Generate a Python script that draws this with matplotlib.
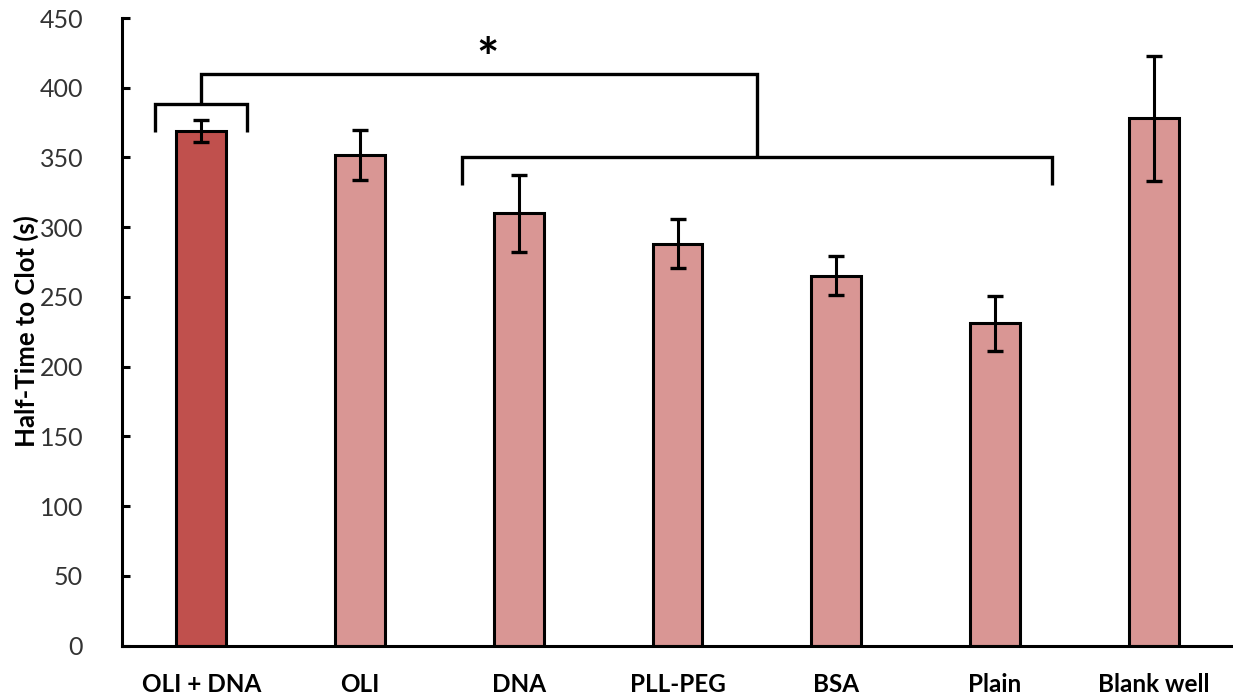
import matplotlib
matplotlib.use("Agg")
import matplotlib.pyplot as plt
import numpy as np

# values
categories = ["OLI + DNA", "OLI", "DNA", "PLL-PEG", "BSA", "Plain", "Blank well"]
half_time = [369, 352, 310, 288, 265, 231, 378]
err = [8, 18, 27.5, 17.5, 14, 19.5, 45]
highlight = "OLI + DNA"

# significance bracket: reference bar vs group of bars
ref_idx = 0
group_idx = [2, 3, 4, 5]
bracket_low = (368, 388.5)     # short bracket over reference bar
bracket_grp = (330, 350)       # long bracket over the group
bracket_top = 410
star_x, star_y = 1.8, 419

plt.rcParams['font.family'] = ['Lato', 'DejaVu Sans']

fig = plt.figure(figsize=(12.33, 6.98), dpi=100)
ax = fig.add_axes([122 / 1233, 52.5 / 698, 1111 / 1233, 627.5 / 698])

x = np.arange(len(categories))
colors = ["#C0504D" if c == highlight else "#D99694" for c in categories]
ax.bar(x, half_time, width=0.315, color=colors, edgecolor="black", linewidth=2.2,
       yerr=err, error_kw=dict(ecolor="black", elinewidth=2.2, capsize=5.6, capthick=2.4),
       zorder=2)

# brackets
lw = 2.4
kw = dict(color="black", lw=lw, solid_capstyle="butt", solid_joinstyle="miter", clip_on=False)
half = 0.29
ax.plot([ref_idx - half, ref_idx - half, ref_idx + half, ref_idx + half],
        [bracket_low[0], bracket_low[1], bracket_low[1], bracket_low[0]], **kw)
g_mid = (group_idx[0] + group_idx[-1]) / 2
g_left = group_idx[0] - 0.36
g_right = group_idx[-1] + 0.36
ax.plot([g_left, g_left, g_right, g_right],
        [bracket_grp[0], bracket_grp[1], bracket_grp[1], bracket_grp[0]], **kw)
ax.plot([ref_idx, ref_idx, g_mid, g_mid],
        [bracket_low[1], bracket_top, bracket_top, bracket_grp[1]], **kw)
ax.text(star_x, star_y, "*", ha="center", va="center", fontsize=38, fontweight="bold")

ax.set_xlim(-0.5, len(categories) - 0.5)
ax.set_ylim(0, 450)
ax.set_yticks(np.arange(0, 451, 50))
ax.set_xticks(x)
ax.set_xticklabels(categories, fontsize=17.5, fontweight="bold")
ax.tick_params(axis="x", length=0, pad=20)
ax.tick_params(axis="y", direction="in", length=6, width=2.2, pad=28,
               labelsize=18, labelcolor="#333333")

for side in ["top", "right"]:
    ax.spines[side].set_visible(False)
for side in ["left", "bottom"]:
    ax.spines[side].set_linewidth(2.2)

fig.text(26 / 1233, 1 - 331 / 698, "Half-Time to Clot (s)", rotation=90,
         ha="center", va="center", fontsize=18.5, fontweight="bold")

fig.savefig("out.png", dpi=100)
